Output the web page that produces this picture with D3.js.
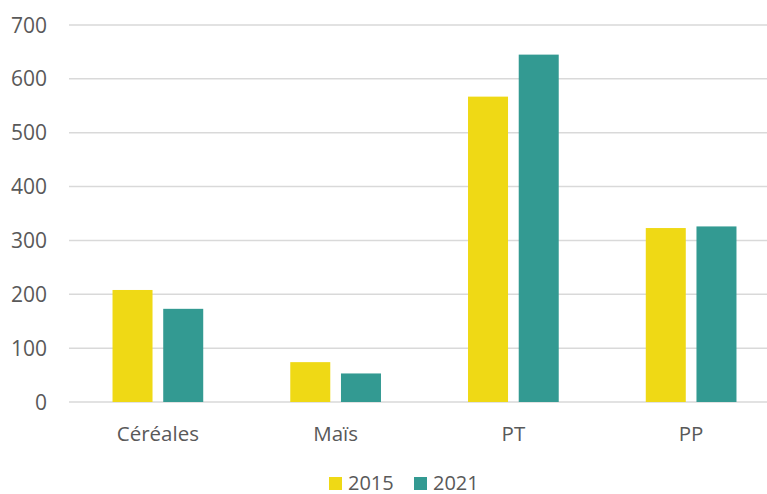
<!DOCTYPE html>
<html lang="fr">
<head>
<meta charset="UTF-8">
<title>Bar chart 2015 / 2021</title>
<script src="https://d3js.org/d3.v7.min.js"></script>
<style>
    body { margin: 0; background: #fff; }
    svg { display: block; }
    text { font-family: "Open Sans", Arial, sans-serif; fill: #595959; }
</style>
</head>
<body>
<svg></svg>
<script>
    const categories = ["Céréales", "Maïs", "PT", "PP"];
    const seriesNames = ["2015", "2021"];
    const values2015 = [208, 74, 567, 323];
    const values2021 = [173, 53, 645, 326];
    const yTicks = [0, 100, 200, 300, 400, 500, 600, 700];
    const colors = ["#EFD915", "#339A92"];

    const width = 767, height = 494;
    const svg = d3.select("svg").attr("width", width).attr("height", height);

    const plotLeft = 69, plotRight = 780, plotTop = 25, plotBottom = 402;

    const x = d3.scaleBand().domain(categories).range([plotLeft, plotRight]).paddingInner(0).paddingOuter(0);
    const y = d3.scaleLinear().domain([0, 700]).range([plotBottom, plotTop]);

    // gridlines
    svg.append("g").selectAll("line")
        .data(yTicks)
        .join("line")
        .attr("x1", plotLeft).attr("x2", width)
        .attr("y1", d => y(d)).attr("y2", d => y(d))
        .attr("stroke", "#d9d9d9")
        .attr("stroke-width", 1.5);

    // y labels
    svg.append("g").selectAll("text")
        .data(yTicks)
        .join("text")
        .attr("x", 47)
        .attr("y", d => y(d))
        .attr("dy", "0.36em")
        .attr("text-anchor", "end")
        .style("font-size", "21px")
        .text(d => d);

    const barW = 40, gap = 10.7;
    const sub = d3.scaleOrdinal().domain(seriesNames).range([-(gap / 2 + barW), gap / 2]);

    const rows = categories.map((c, i) => [
        { cat: c, s: "2015", v: values2015[i] },
        { cat: c, s: "2021", v: values2021[i] }
    ]).flat();

    svg.append("g").selectAll("rect")
        .data(rows)
        .join("rect")
        .attr("x", d => x(d.cat) + x.bandwidth() / 2 + sub(d.s))
        .attr("width", barW)
        .attr("y", d => y(d.v))
        .attr("height", d => y(0) - y(d.v))
        .attr("fill", d => colors[seriesNames.indexOf(d.s)]);

    // category labels
    svg.append("g").selectAll("text")
        .data(categories)
        .join("text")
        .attr("x", d => x(d) + x.bandwidth() / 2)
        .attr("y", 441)
        .attr("text-anchor", "middle")
        .style("font-size", "20.5px")
        .text(d => d);

    // legend
    const legend = svg.append("g");
    const legX = [329, 414];
    seriesNames.forEach((s, i) => {
        legend.append("rect")
            .attr("x", legX[i]).attr("y", 477)
            .attr("width", 13).attr("height", 13)
            .attr("fill", colors[i]);
        legend.append("text")
            .attr("x", legX[i] + 19).attr("y", 490)
            .style("font-size", "20px")
            .text(s);
    });
</script>
</body>
</html>
